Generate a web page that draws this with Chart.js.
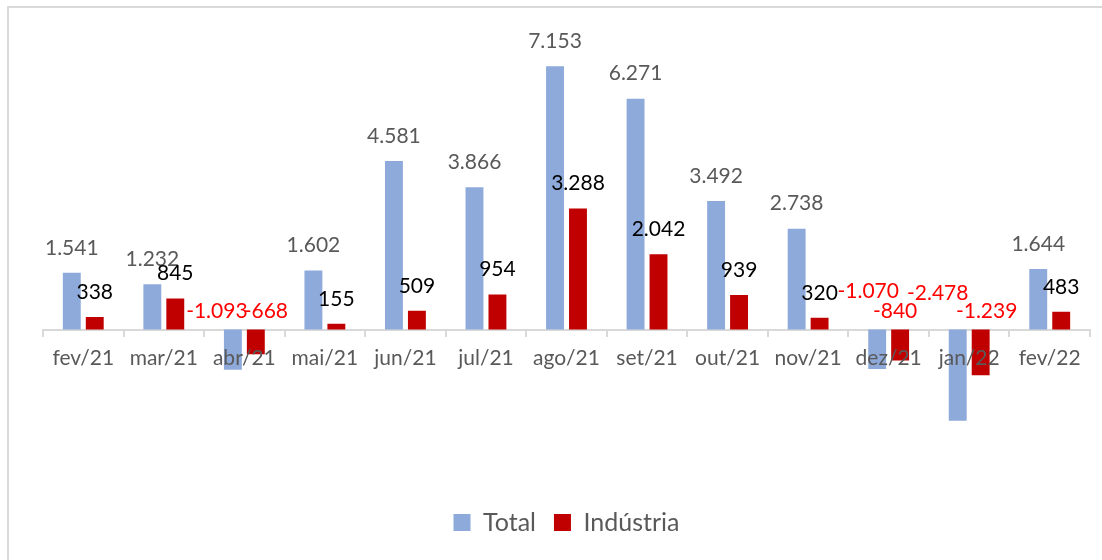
<!DOCTYPE html>
<html>
<head>
<meta charset="utf-8">
<script src="https://cdn.jsdelivr.net/npm/chart.js@4.4.1/dist/chart.umd.min.js"></script>
<style>
  html, body { margin: 0; padding: 0; background: #fff; }
  canvas { display: block; }
</style>
</head>
<body>
<canvas id="saldoChart" width="1102" height="560"></canvas>
<script>
var meses = ["fev/21", "mar/21", "abr/21", "mai/21", "jun/21", "jul/21", "ago/21",
  "set/21", "out/21", "nov/21", "dez/21", "jan/22", "fev/22"];
var total = [1541, 1232, -1093, 1602, 4581, 3866, 7153, 6271, 3492, 2738, -1070, -2478, 1644];
var industria = [338, 845, -668, 155, 509, 954, 3288, 2042, 939, 320, -840, -1239, 483];

// nudges for the negative labels, as they sit in the original (dx, dy in px)
var ajusteNeg = [
  { 2: [-16, 0], 10: [-9, -20], 11: [-20, -18] },
  { 2: [10, 0], 10: [-5, 0], 11: [6, 0] }
];

function formatar(v) {
  var s = Math.abs(v).toString().replace(/\B(?=(\d{3})+(?!\d))/g, ".");
  return (v < 0 ? "-" : "") + s;
}

var moldura = {
  id: "moldura",
  beforeDraw: function (chart) {
    var ctx = chart.ctx;
    ctx.save();
    ctx.fillStyle = "#fff";
    ctx.fillRect(0, 0, chart.width, chart.height);
    ctx.strokeStyle = "#d9d9d9";
    ctx.lineWidth = 2;
    ctx.strokeRect(8, 7, chart.width + 20, chart.height + 20);
    ctx.restore();
  }
};

var rotulos = {
  id: "rotulos",
  afterDatasetsDraw: function (chart) {
    var ctx = chart.ctx;
    var zero = chart.scales.y.getPixelForValue(0);
    ctx.save();
    ctx.font = "21px Lato";
    ctx.textAlign = "center";
    ctx.textBaseline = "middle";
    chart.data.datasets.forEach(function (ds, d) {
      var meta = chart.getDatasetMeta(d);
      meta.data.forEach(function (bar, i) {
        var v = ds.data[i];
        var x = bar.x, y;
        if (v >= 0) {
          y = bar.y - 25;
          ctx.fillStyle = d === 0 ? "#595959" : "#000";
        } else {
          y = zero - 18;
          var n = ajusteNeg[d][i];
          if (n) { x += n[0]; y += n[1]; }
          ctx.fillStyle = "#ff0000";
        }
        ctx.fillText(formatar(v), x, y);
      });
    });
    ctx.restore();
  }
};

var chart = new Chart(document.getElementById("saldoChart"), {
  type: "bar",
  data: {
    labels: meses,
    datasets: [
      {
        label: "Total",
        data: total,
        backgroundColor: "#8eaadb",
        categoryPercentage: 0.57,
        barPercentage: 0.78
      },
      {
        label: "Indústria",
        data: industria,
        backgroundColor: "#c00000",
        categoryPercentage: 0.57,
        barPercentage: 0.78
      }
    ]
  },
  options: {
    responsive: false,
    animation: false,
    layout: { padding: { top: 35, left: 43, right: 12, bottom: 15 } },
    scales: {
      y: {
        display: false,
        min: -4000,
        max: 8000
      },
      x: {
        position: { y: 0 },
        grid: {
          drawOnChartArea: false,
          drawTicks: true,
          tickLength: 6,
          color: "#d9d9d9",
          lineWidth: 2,
          offset: true
        },
        border: { display: true, color: "#d9d9d9", width: 2 },
        ticks: {
          z: 1,
          color: "#595959",
          font: { family: "Lato", size: 21 },
          padding: 10,
          maxRotation: 0,
          autoSkip: false
        }
      }
    },
    plugins: {
      legend: {
        position: "bottom",
        title: { display: true, text: "", font: { size: 1 }, padding: { top: 14, bottom: 0 } },
        labels: {
          boxWidth: 17,
          boxHeight: 17,
          padding: 18,
          color: "#595959",
          font: { family: "Lato", size: 25 }
        }
      },
      tooltip: { enabled: false }
    }
  },
  plugins: [moldura, rotulos]
});
</script>
</body>
</html>
